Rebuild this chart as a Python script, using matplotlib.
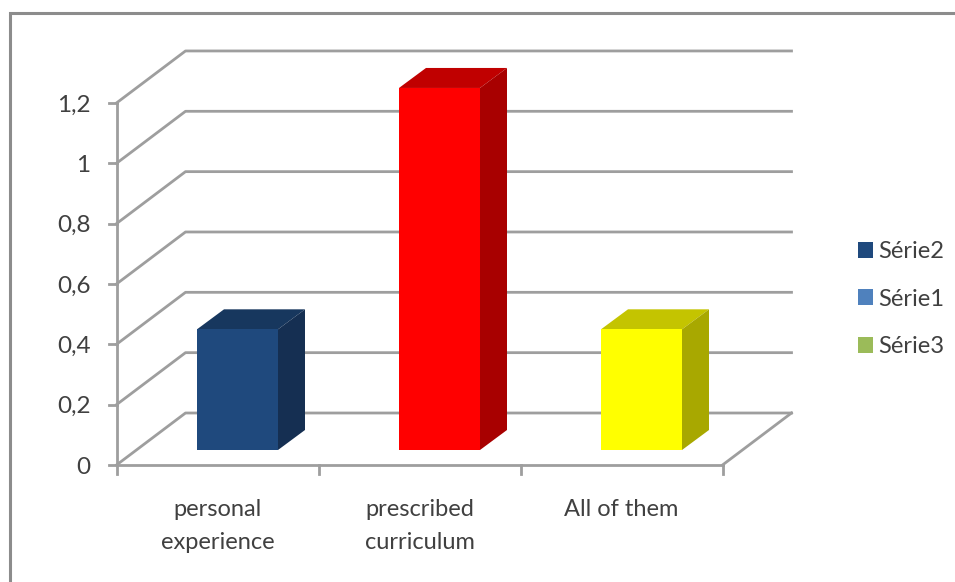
import matplotlib
matplotlib.use("Agg")
import matplotlib.pyplot as plt
from matplotlib.patches import Polygon, Rectangle

categories = ["personal\nexperience", "prescribed\ncurriculum", "All of them"]
values = [0.4, 1.2, 0.4]
front_colors = ["#1F497D", "#FF0000", "#FFFF00"]
top_colors = ["#17375E", "#C00000", "#C4C400"]
side_colors = ["#152F52", "#A80000", "#A8A800"]
y_ticks = [0, 0.2, 0.4, 0.6, 0.8, 1, 1.2]
y_labels = ["0", "0,2", "0,4", "0,6", "0,8", "1", "1,2"]
legend_names = ["Série2", "Série1", "Série3"]
legend_colors = ["#1F497D", "#4F81BD", "#9BBB59"]

W, H = 955, 582
X0, CAT = 116.5, 202
Y0, UNIT = 465, 301.7
GRID = "#9E9E9E"
TXT = "#404040"
plt.rcParams["font.family"] = ["Lato", "DejaVu Sans"]

fig = plt.figure(figsize=(W / 100, H / 100), dpi=100)
ax = fig.add_axes([0, 0, 1, 1])
ax.set_xlim(-X0 / CAT, (W - X0) / CAT)
ax.set_ylim((Y0 - H) / UNIT, Y0 / UNIT)
ax.axis("off")

DX, DY = 69 / CAT, 52 / UNIT
n = len(categories)

# outer frame
ax.plot([(955 - X0) / CAT, -(X0 - 10) / CAT, -(X0 - 10) / CAT],
        [(Y0 - 13) / UNIT, (Y0 - 13) / UNIT, (Y0 - H) / UNIT],
        color="#8C8C8C", lw=2.2, clip_on=False, solid_joinstyle="miter")

# walls and gridlines
for t in y_ticks:
    ax.plot([0, DX, n + DX], [t, t + DY, t + DY], color=GRID, lw=2, zorder=1)
    ax.plot([-8 / CAT, 0], [t, t], color=GRID, lw=2, zorder=1)
ax.plot([n, n + DX], [0, DY], color=GRID, lw=2, zorder=1)
ax.plot([0, 0], [y_ticks[0], y_ticks[-1]], color=GRID, lw=2, zorder=2)
ax.plot([0, n], [0, 0], color=GRID, lw=2, zorder=2)
for i in range(n + 1):
    ax.plot([i, i], [0, -9 / UNIT], color=GRID, lw=2, zorder=2)

for t, lab in zip(y_ticks, y_labels):
    ax.text(-26 / CAT, t - 2 / UNIT, lab, ha="right", va="center", fontsize=17.5, color=TXT)
for i, lab in enumerate(categories):
    ax.text(i + 0.5, -34 / UNIT, lab, ha="center", va="top", fontsize=17,
            color=TXT, linespacing=1.72)

# bars
bw = 81 / CAT
fx, fy = 20 / CAT, 15 / UNIT      # position of the front face on the floor
bdx, bdy = 27 / CAT, 20 / UNIT    # bar depth
for i, v in enumerate(values):
    l = i + 0.5 - bw / 2 + fx
    r = l + bw
    b = fy
    t = fy + v
    ax.add_patch(Rectangle((l, b), bw, v, fc=front_colors[i], ec="none", zorder=4))
    ax.add_patch(Polygon([(l, t), (r, t), (r + bdx, t + bdy), (l + bdx, t + bdy)],
                         fc=top_colors[i], ec="none", zorder=3))
    ax.add_patch(Polygon([(r, b), (r + bdx, b + bdy), (r + bdx, t + bdy), (r, t)],
                         fc=side_colors[i], ec="none", zorder=3))

handles = [Rectangle((0, 0), 1, 1, fc=c, ec="none") for c in legend_colors]
leg = ax.legend(handles, legend_names, loc="center left",
          bbox_to_anchor=(858 / W, 1 - 299 / H), bbox_transform=fig.transFigure,
          frameon=False, fontsize=17, labelcolor=TXT, handlelength=0.65,
          handleheight=0.65, handletextpad=0.2, labelspacing=1.12,
          borderpad=0, borderaxespad=0)

fig.savefig("out.png", dpi=100)
